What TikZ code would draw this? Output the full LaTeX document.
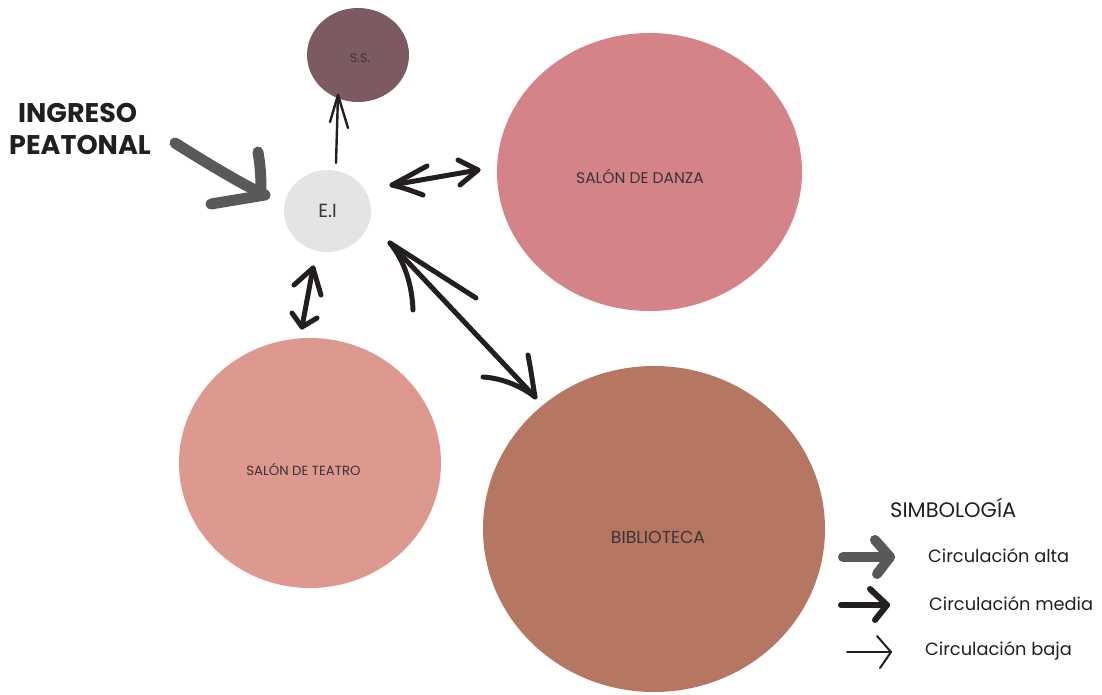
\documentclass[tikz,border=0pt]{standalone}
\usepackage{fontspec}
\setmainfont{Poppins}
\usetikzlibrary{shapes.geometric}
\definecolor{ssc}{HTML}{7B5A61}
\definecolor{eic}{HTML}{E3E4E6}
\definecolor{danc}{HTML}{D48489}
\definecolor{teac}{HTML}{DD998F}
\definecolor{bibc}{HTML}{B67762}
\definecolor{altac}{HTML}{58595B}
\definecolor{inkc}{HTML}{231F20}
\definecolor{txtc}{HTML}{3A3335}
\tikzset{
  room/.style={ellipse, inner sep=0pt, text=txtc},
  alta/.style={draw=altac, line width=11pt, line cap=round, line join=round},
  media/.style={draw=inkc, line width=5pt, line cap=round, line join=round},
  baja/.style={draw=inkc, line width=2.4pt, line cap=round, line join=round},
  lbl/.style={anchor=west, text=inkc, font=\fontsize{17.8}{20}\selectfont, inner sep=0pt}
}
\begin{document}
\begin{tikzpicture}[x=1pt,y=-1pt]
\useasboundingbox (0,0) rectangle (1102,694);
% rooms
\node[room, fill=ssc, minimum width=102pt, minimum height=94pt, font=\fontsize{13}{14}\selectfont] (ss) at (358,55) {};
\node[text=txtc, font=\fontsize{12.5}{14}\selectfont] (sst) at (360,58) {S.S.};
\node[room, fill=eic, minimum width=87pt, minimum height=82pt] (ei) at (327.5,211) {};
\node[text=txtc, font=\fontsize{19}{21}\selectfont] (eit) at (327.5,211) {E.I};
\node[room, fill=danc, minimum width=305pt, minimum height=278pt] (danza) at (649.5,172) {};
\node[text=txtc, font=\fontsize{15.5}{17}\selectfont] (danzat) at (640,176) {SALÓN DE DANZA};
\node[room, fill=teac, minimum width=262pt, minimum height=250pt] (teatro) at (310,463) {};
\node[text=txtc, font=\fontsize{13.3}{15}\selectfont] (teatrot) at (303.5,469) {SALÓN DE TEATRO};
\node[room, fill=bibc, minimum width=342pt, minimum height=326pt] (biblio) at (654,529) {};
\node[text=txtc, font=\fontsize{17.3}{19}\selectfont] (bibliot) at (658,537) {BIBLIOTECA};
% ingreso
\node[anchor=west, text=inkc, font=\bfseries\fontsize{27}{32}\selectfont, align=left, inner sep=0pt] (ing) at (9,129) {\hspace*{9pt}INGRESO\\PEATONAL};
% coordinates
\coordinate (inA) at (175,143);
\coordinate (inT) at (265,195);
\coordinate (ssA) at (336,163);
\coordinate (ssT) at (338,95);
\coordinate (daL) at (392,185);
\coordinate (daR) at (478,170);
\coordinate (teT) at (313,268);
\coordinate (teB) at (302,327);
\coordinate (biT) at (390,243);
\coordinate (biB) at (535,397);
% alta arrow (ingreso)
\path[alta] (inA) .. controls (210,165) and (240,183) .. (inT);
\path[alta] (258,152) .. controls (261,170) and (261,180) .. (261,195) -- (inT) -- (211,204);
% baja arrow to S.S.
\path[baja] (ssA) -- (ssT);
\path[baja] (330,122) -- (ssT) -- (348,128);
% media arrows
\path[media] (daL) -- (daR);
\path[media] (427,166) -- (daL) .. controls (405,188) and (415,192) .. (423,195);
\path[media] (458,160) -- (daR) -- (460,185);
\path[media] (teT) -- (teB);
\path[media] (294,285) -- (teT) -- (321,295);
\path[media] (292,313) -- (teB) -- (317,318);
\path[media] (biT) -- (biB);
\path[media] (413,310) .. controls (412,285) and (405,262) .. (biT) -- (476,298);
\path[media] (528,355) .. controls (531,370) and (533,385) .. (biB) .. controls (520,385) and (500,378) .. (483,377);
% legend
\node[anchor=west, text=inkc, font=\fontsize{21}{23}\selectfont, inner sep=0pt] (simb) at (890,508) {SIMBOLOGÍA};
\coordinate (la0) at (843,557);
\coordinate (la1) at (890,557);
\path[alta, line width=10pt] (la0) -- (la1);
\path[alta, line width=10pt] (875,540) -- (la1) -- (877,574);
\node[lbl] (lalta) at (928,556) {Circulación alta};
\coordinate (lm0) at (841,605);
\coordinate (lm1) at (887,605);
\path[media, line width=6pt] (lm0) -- (lm1);
\path[media, line width=6pt] (870,589) -- (lm1) -- (875,620);
\node[lbl] (lmedia) at (929,604) {Circulación media};
\coordinate (lb0) at (847,652);
\coordinate (lb1) at (891,652);
\path[baja, line width=2pt] (lb0) -- (lb1);
\path[baja, line width=2pt] (877,636) -- (lb1) -- (880,668);
\node[lbl] (lbaja) at (925,651) {Circulación baja};
\end{tikzpicture}
\end{document}
